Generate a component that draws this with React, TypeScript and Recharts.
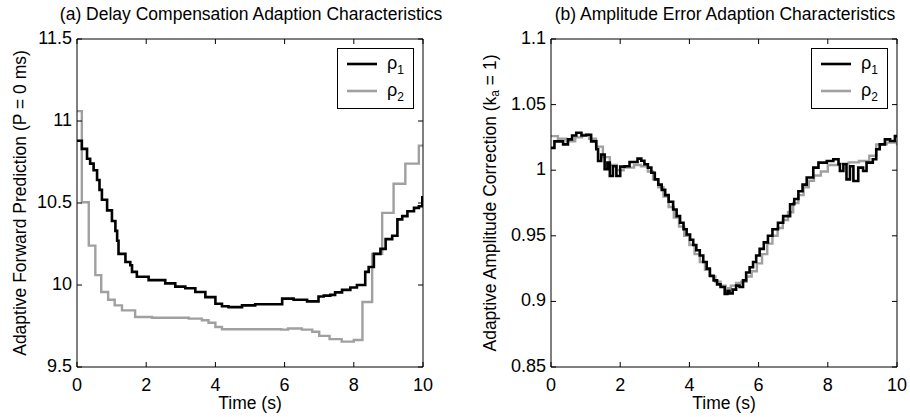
import { LineChart, Line, XAxis, YAxis, Legend, Label } from "recharts"

const FONT = '"Liberation Sans", Arial, Helvetica, sans-serif'

// time (s), value pairs
const delayRho1: [number, number][] = [
  [0, 10.88], [0.14, 10.83], [0.29, 10.77], [0.38, 10.74], [0.48, 10.7], [0.58, 10.64],
  [0.65, 10.58], [0.72, 10.52], [0.87, 10.455], [1.01, 10.39], [1.11, 10.33], [1.16, 10.27],
  [1.2, 10.19], [1.4, 10.14], [1.54, 10.12], [1.59, 10.08], [1.73, 10.05], [2.07, 10.03],
  [2.55, 10.01], [2.84, 9.99], [3.13, 9.98], [3.42, 9.957], [3.71, 9.926], [4.0, 9.886],
  [4.19, 9.87], [4.38, 9.865], [4.77, 9.876], [5.15, 9.883], [5.93, 9.917], [6.26, 9.91],
  [6.65, 9.9], [6.98, 9.93], [7.13, 9.935], [7.32, 9.94], [7.46, 9.955], [7.66, 9.97],
  [7.9, 9.985], [8.09, 10.0], [8.33, 10.08], [8.43, 10.11], [8.58, 10.19], [8.77, 10.22],
  [8.92, 10.28], [9.11, 10.3], [9.26, 10.4], [9.4, 10.42], [9.55, 10.45], [9.74, 10.47],
  [9.88, 10.48], [9.98, 10.535], [10, 10.535],
]

const delayRho2: [number, number][] = [
  [0, 11.06], [0.14, 10.505], [0.34, 10.24], [0.53, 10.06], [0.7, 9.957], [0.9, 9.91],
  [1.09, 9.876], [1.3, 9.845], [1.68, 9.805], [2.17, 9.8], [3.23, 9.795], [3.61, 9.785],
  [3.8, 9.77], [4.0, 9.744], [4.19, 9.73], [5.0, 9.73], [5.9, 9.728], [6.1, 9.735],
  [6.5, 9.728], [6.8, 9.715], [7.0, 9.69], [7.3, 9.67], [7.65, 9.655], [8.0, 9.665],
  [8.25, 9.896], [8.53, 10.19], [8.82, 10.44], [9.15, 10.617], [9.49, 10.74], [9.88, 10.85],
  [10, 10.85],
]

const ampRho1: [number, number][] = [
  [0, 1.017], [0.1, 1.022], [0.35, 1.0197], [0.49, 1.0235], [0.61, 1.0265], [0.73, 1.0286],
  [0.88, 1.0265], [1.02, 1.027], [1.16, 1.022], [1.31, 1.016], [1.36, 1.007], [1.45, 1.012],
  [1.55, 1.0007], [1.63, 1.0058], [1.7, 0.9956], [1.79, 1.003], [1.89, 0.9956], [2.0, 1.0027],
  [2.13, 1.003], [2.27, 1.0062], [2.5, 1.0088], [2.61, 1.0072], [2.7, 1.0045], [2.8, 1.002],
  [2.9, 0.998], [3.0, 0.993], [3.1, 0.989], [3.2, 0.985], [3.3, 0.981], [3.4, 0.976],
  [3.53, 0.97], [3.63, 0.965], [3.73, 0.96], [3.83, 0.955], [3.92, 0.951], [4.02, 0.947],
  [4.11, 0.943], [4.2, 0.939], [4.3, 0.935], [4.4, 0.93], [4.5, 0.925], [4.59, 0.9196],
  [4.7, 0.916], [4.8, 0.913], [4.9, 0.911], [5.02, 0.9057], [5.1, 0.908], [5.16, 0.906],
  [5.25, 0.909], [5.35, 0.912], [5.45, 0.911], [5.55, 0.916], [5.64, 0.922], [5.74, 0.926],
  [5.84, 0.93], [5.93, 0.935], [6.03, 0.94], [6.15, 0.945], [6.27, 0.95], [6.4, 0.955],
  [6.56, 0.96], [6.71, 0.965], [6.91, 0.974], [7.03, 0.978], [7.15, 0.984], [7.27, 0.989],
  [7.39, 0.9944], [7.58, 1.002], [7.73, 1.0058], [7.97, 1.007], [8.16, 1.0083], [8.31, 1.0045],
  [8.35, 0.9994], [8.45, 1.0045], [8.54, 0.993], [8.64, 1.003], [8.74, 0.9918], [8.88, 1.002],
  [9.02, 0.9994], [9.12, 1.0058], [9.3, 1.0083], [9.4, 1.016], [9.5, 1.0197], [9.65, 1.0235],
  [9.8, 1.0222], [9.94, 1.026], [10, 1.026],
]

const ampRho2: [number, number][] = [
  [0, 1.026], [0.2, 1.024], [0.45, 1.022], [0.7, 1.025], [0.9, 1.027], [1.1, 1.024],
  [1.3, 1.018], [1.5, 1.01], [1.7, 1.004], [1.9, 1.0], [2.1, 1.002], [2.4, 1.004],
  [2.6, 1.003], [2.8, 0.999], [2.95, 0.993], [3.1, 0.987], [3.25, 0.98], [3.4, 0.972],
  [3.55, 0.964], [3.7, 0.957], [3.85, 0.95], [4.0, 0.943], [4.15, 0.936], [4.3, 0.93],
  [4.45, 0.924], [4.6, 0.919], [4.75, 0.915], [4.9, 0.912], [5.05, 0.91], [5.2, 0.912],
  [5.35, 0.914], [5.5, 0.915], [5.65, 0.919], [5.8, 0.923], [5.95, 0.929], [6.1, 0.936],
  [6.25, 0.944], [6.4, 0.95], [6.55, 0.956], [6.7, 0.962], [6.85, 0.968], [7.0, 0.975],
  [7.15, 0.981], [7.3, 0.987], [7.45, 0.992], [7.6, 0.996], [7.8, 0.999], [8.0, 1.004],
  [8.3, 1.005], [8.6, 1.006], [8.9, 1.007], [9.2, 1.011], [9.4, 1.0197], [9.7, 1.021],
  [10, 1.019],
]

const timeTicks = [0, 2, 4, 6, 8, 10]
const delayTicks = [9.5, 10, 10.5, 11, 11.5]
const ampTicks = [0.85, 0.9, 0.95, 1, 1.05, 1.1]

const toRows = (pairs: [number, number][]) => pairs.map(([t, v]) => ({ t, v }))

const tickStyle = { fontFamily: FONT, fontSize: 18, fill: "#000" }
const labelStyle = { fontFamily: FONT, fontSize: 17.5, fill: "#000" }

function BottomTick({ x, y, payload }: any) {
  return (
    <g>
      <line x1={x} y1={y} x2={x} y2={y - 5} stroke="#000" />
      <text x={x} y={y + 24} textAnchor="middle" style={tickStyle}>{payload.value}</text>
    </g>
  )
}

function TopTick({ x, y }: any) {
  return <line x1={x} y1={y} x2={x} y2={y + 5} stroke="#000" />
}

function LeftTick({ x, y, payload }: any) {
  return (
    <g>
      <line x1={x} y1={y} x2={x + 5} y2={y} stroke="#000" />
      <text x={x - 5} y={y + 5} textAnchor="end" style={tickStyle}>{payload.value}</text>
    </g>
  )
}

function RightTick({ x, y }: any) {
  return <line x1={x} y1={y} x2={x - 5} y2={y} stroke="#000" />
}

function LegendBox({ payload }: any) {
  const items = [...(payload || [])].sort((a: any, b: any) => String(a.value).localeCompare(String(b.value)))
  return (
    <div
      style={{
        width: 77,
        height: 61,
        border: "1.3px solid #000",
        background: "#fff",
        boxSizing: "border-box",
        position: "relative",
        fontFamily: FONT,
        fontSize: 18,
        color: "#000",
      }}
    >
      {items.map((item: any, i: number) => (
        <div
          key={item.value}
          style={{ position: "absolute", left: 9, top: 3 + i * 27, height: 24, display: "flex", alignItems: "center" }}
        >
          <svg width={30} height={4} style={{ display: "block" }}>
            <line x1={0} y1={2} x2={30} y2={2} stroke={item.color} strokeWidth={2.6} />
          </svg>
          <span style={{ marginLeft: 10, lineHeight: "24px" }}>
            {String(item.value).charAt(0)}
            <span style={{ fontSize: 12, position: "relative", top: 5 }}>{String(item.value).slice(1)}</span>
          </span>
        </div>
      ))}
    </div>
  )
}

function Panel({
  title,
  yLabel,
  rho1,
  rho2,
  domain,
  yTicks,
  marginLeft,
  marginRight,
  yLabelGap,
}: {
  title: string
  yLabel: React.ReactNode
  rho1: [number, number][]
  rho2: [number, number][]
  domain: [number, number]
  yTicks: number[]
  marginLeft: number
  marginRight: number
  yLabelGap: number
}) {
  return (
    <LineChart width={455} height={417} margin={{ top: 38, right: marginRight - 1, bottom: 20, left: marginLeft }}>
      <XAxis
        dataKey="t"
        type="number"
        domain={[0, 10]}
        ticks={timeTicks}
        allowDataOverflow
        height={30}
        tickSize={0}
        tickMargin={0}
        tick={<BottomTick />}
        axisLine={{ stroke: "#000" }}
        tickLine={false}
      >
        <Label
          content={({ viewBox }: any) => (
            <text x={viewBox.x + viewBox.width / 2} y={viewBox.y + 42} textAnchor="middle" style={labelStyle}>
              Time (s)
            </text>
          )}
        />
      </XAxis>
      <XAxis
        xAxisId="top"
        orientation="top"
        dataKey="t"
        type="number"
        domain={[0, 10]}
        ticks={timeTicks}
        allowDataOverflow
        height={1}
        tickSize={0}
        tickMargin={0}
        tick={<TopTick />}
        axisLine={{ stroke: "#000" }}
        tickLine={false}
      >
        <Label
          content={({ viewBox }: any) => (
            <text x={viewBox.x + viewBox.width / 2 + 1} y={viewBox.y - 18} textAnchor="middle" style={labelStyle}>
              {title}
            </text>
          )}
        />
      </XAxis>
      <YAxis
        type="number"
        domain={domain}
        ticks={yTicks}
        allowDataOverflow
        width={72}
        tickSize={0}
        tickMargin={0}
        tick={<LeftTick />}
        axisLine={{ stroke: "#000" }}
        tickLine={false}
      >
        <Label
          content={({ viewBox }: any) => {
            const cx = viewBox.x + viewBox.width - yLabelGap
            const cy = viewBox.y + viewBox.height / 2
            return (
              <text
                x={cx}
                y={cy}
                transform={`rotate(-90, ${cx}, ${cy})`}
                textAnchor="middle"
                dominantBaseline="central"
                style={labelStyle}
              >
                {yLabel}
              </text>
            )
          }}
        />
      </YAxis>
      <YAxis
        yAxisId="right"
        orientation="right"
        type="number"
        domain={domain}
        ticks={yTicks}
        allowDataOverflow
        width={1}
        tickSize={0}
        tickMargin={0}
        tick={<RightTick />}
        axisLine={{ stroke: "#000" }}
        tickLine={false}
      />
      <Legend
        layout="vertical"
        align="center"
        verticalAlign="middle"
        wrapperStyle={{ top: 48, left: 455 - marginRight - 86, width: 77 }}
        content={<LegendBox />}
      />
      <Line
        data={toRows(rho2)}
        dataKey="v"
        name="ρ2"
        type="stepAfter"
        stroke="#a0a0a0"
        strokeWidth={2.4}
        dot={false}
        activeDot={false}
        isAnimationActive={false}
      />
      <Line
        data={toRows(rho1)}
        dataKey="v"
        name="ρ1"
        type="stepAfter"
        stroke="#000"
        strokeWidth={2.6}
        dot={false}
        activeDot={false}
        isAnimationActive={false}
      />
    </LineChart>
  )
}

export default function App() {
  return (
    <div style={{ position: "absolute", left: 0, top: 0, width: 910, height: 417, background: "#fff" }}>
      <div style={{ position: "absolute", left: 0, top: 0 }}>
        <Panel
          title="(a) Delay Compensation Adaption Characteristics"
          yLabel="Adaptive Forward Prediction (P = 0 ms)"
          rho1={delayRho1}
          rho2={delayRho2}
          domain={[9.5, 11.5]}
          yTicks={delayTicks}
          marginLeft={5}
          marginRight={32}
          yLabelGap={57}
        />
      </div>
      <div style={{ position: "absolute", left: 455, top: 0 }}>
        <Panel
          title="(b) Amplitude Error Adaption Characteristics"
          yLabel={
            <>
              Adaptive Amplitude Correction (k<tspan dy={5} fontSize={12}>a</tspan>
              <tspan dy={-5}> = 1)</tspan>
            </>
          }
          rho1={ampRho1}
          rho2={ampRho2}
          domain={[0.85, 1.1]}
          yTicks={ampTicks}
          marginLeft={24}
          marginRight={13}
          yLabelGap={61}
        />
      </div>
    </div>
  )
}
